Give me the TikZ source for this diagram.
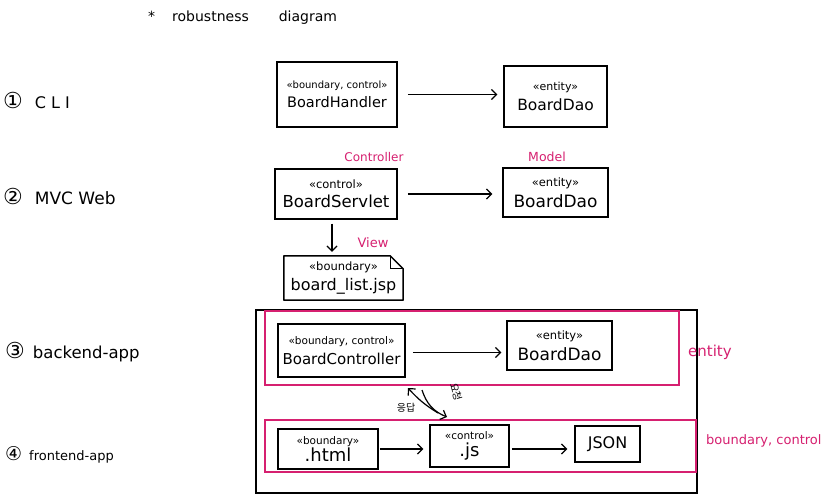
\documentclass[tikz,border=0pt]{standalone}
\usepackage{fontspec}
\setmainfont{DejaVu Sans}
\newfontfamily\krfont{Noto Sans CJK KR}
\usetikzlibrary{arrows.meta}
\definecolor{pinkline}{RGB}{214,32,112}
% #1 stereotype size, #2 name size, #3 stereotype, #4 name
\newcommand{\stbox}[4]{{\fontsize{#1}{#1}\selectfont «#3»}\\[5pt]{\fontsize{#2}{#2}\selectfont #4}}
\begin{document}
\begin{tikzpicture}[x=1pt,y=-1pt,
  box/.style={draw=black, line width=1.5pt, inner sep=1pt, align=center, fill=white},
  frame/.style={draw=black, line width=1.5pt, inner sep=0pt},
  pinkframe/.style={draw=pinkline, line width=1.4pt, inner sep=0pt},
  pinklabel/.style={text=pinkline, inner sep=0pt, font=\fontsize{12}{13}\selectfont},
  rowlabel/.style={anchor=west, inner sep=0pt},
  arr/.style={line width=1.2pt, -{Straight Barb[length=5pt,width=10pt]}},
  kr/.style={inner sep=0pt, font=\krfont\fontsize{10}{11}\selectfont}
]
\useasboundingbox[fill=white] (0,0) rectangle (828,500);

% title and row labels
\node[inner sep=0pt, anchor=west, font=\fontsize{14}{16}\selectfont] (title) at (148,18) {*\hspace{17pt}robustness\hspace{30pt}diagram};
\node[rowlabel] (l1) at (3,100) {{\fontsize{22}{22}\selectfont ①}\hspace{12pt}{\fontsize{16}{16}\selectfont C\hspace{5pt}L\hspace{5pt}I}};
\node[rowlabel] (l2) at (3,196) {{\fontsize{22}{22}\selectfont ②}\hspace{12pt}{\fontsize{17}{17}\selectfont MVC Web}};
\node[rowlabel] (l3) at (5,352) {{\fontsize{22}{22}\selectfont ③}\hspace{8pt}{\fontsize{16.5}{17}\selectfont backend-app}};
\node[rowlabel] (l4) at (5,455) {{\fontsize{19}{19}\selectfont ④}\hspace{7pt}{\fontsize{13}{14}\selectfont frontend-app}};

% containers
\node[frame, minimum width=441pt, minimum height=183pt] (outer) at (476.5,401.5) {};
\node[pinkframe, minimum width=414pt, minimum height=74pt] (entbox) at (472,348) {};
\node[pinkframe, minimum width=431pt, minimum height=52pt] (bcbox) at (480.5,446) {};
\node[pinklabel, anchor=west, font=\fontsize{15}{16}\selectfont] (entlbl) at (688,352) {entity};
\node[pinklabel, anchor=west, font=\fontsize{13}{14}\selectfont] (bclbl) at (706,441) {boundary, control};

% row 1
\node[box, minimum width=120pt, minimum height=65pt] (bh) at (337,94.5) {\stbox{10}{14.5}{boundary, control}{BoardHandler}};
\node[box, minimum width=103pt, minimum height=61pt] (dao1) at (555.5,96.5) {\stbox{11}{15.5}{entity}{BoardDao}};
\draw[arr, shorten <=10pt, shorten >=6pt] (bh.east) -- (bh.east -| dao1.west);

% row 2
\node[box, minimum width=122pt, minimum height=50pt] (bs) at (336,194) {\stbox{11.5}{16.5}{control}{BoardServlet}};
\node[box, minimum width=105pt, minimum height=49pt] (dao2) at (555.5,192.5) {\stbox{11.5}{17}{entity}{BoardDao}};
\draw[arr, shorten <=10pt, shorten >=10pt] (bs.east) -- (bs.east -| dao2.west);
\node[pinklabel] (ctl) at (374,157) {Controller};
\node[pinklabel, font=\fontsize{12.5}{13}\selectfont] (mdl) at (547,157) {Model};

\node[inner sep=1pt, align=center, minimum width=119pt, minimum height=44pt] (jsp) at (343.5,278) {\stbox{11.5}{16}{boundary}{board\_list.jsp}};
\draw[line width=1.5pt, line join=round] (jsp.north west) -- ([xshift=-13pt]jsp.north east) -- ([yshift=-13pt]jsp.north east) -- (jsp.south east) -- (jsp.south west) -- cycle;
\draw[line width=1pt] ([xshift=-13pt]jsp.north east) -- ++(0,13) -- ([yshift=-13pt]jsp.north east);
\node[pinklabel, font=\fontsize{13}{14}\selectfont] (view) at (373,243) {View};
\draw[arr, shorten <=4pt, shorten >=4pt] ([xshift=-4pt]bs.south) -- ([xshift=-4pt]bs.south |- jsp.north);

% row 3
\node[box, minimum width=127pt, minimum height=53pt] (bc) at (341.5,350.5) {\stbox{10.5}{15}{boundary, control}{BoardController}};
\node[box, minimum width=105pt, minimum height=49pt] (dao3) at (559.5,345.5) {\stbox{11.5}{17}{entity}{BoardDao}};
\draw[arr, shorten <=7pt, shorten >=5pt] ([yshift=-2pt]bc.east) -- ([yshift=-2pt]bc.east -| dao3.west);

% row 4
\node[box, minimum width=100pt, minimum height=40pt] (html) at (328,449) {{\fontsize{10.5}{10.5}\selectfont «boundary»}\\[1pt]{\fontsize{18}{18}\selectfont .html}};
\node[box, minimum width=79pt, minimum height=42pt] (js) at (469.5,446) {{\fontsize{10.5}{10.5}\selectfont «control»}\\[2pt]{\fontsize{18}{18}\selectfont .js}};
\node[box, minimum width=65pt, minimum height=36pt] (json) at (607.5,444) {{\fontsize{16}{16}\selectfont JSON}};
\draw[arr, shorten <=1pt, shorten >=6pt] (html.east) -- (html.east -| js.west);
\draw[arr, shorten <=2pt, shorten >=7pt] ([yshift=-3pt]js.east) -- ([yshift=-3pt]js.east -| json.west);

% request / response
\coordinate (r1) at (438,413);
\coordinate (r2) at (408,388);
\coordinate (q1) at (422,390);
\coordinate (q2) at (447,417);
\draw[arr] (r1) to[bend left=8] (r2);
\draw[arr] (q1) to[bend right=25] (q2);
\node[kr] (resp) at (406,408) {응답};
\node[kr, rotate=-75] (req) at (456,392) {요청};
\end{tikzpicture}
\end{document}
